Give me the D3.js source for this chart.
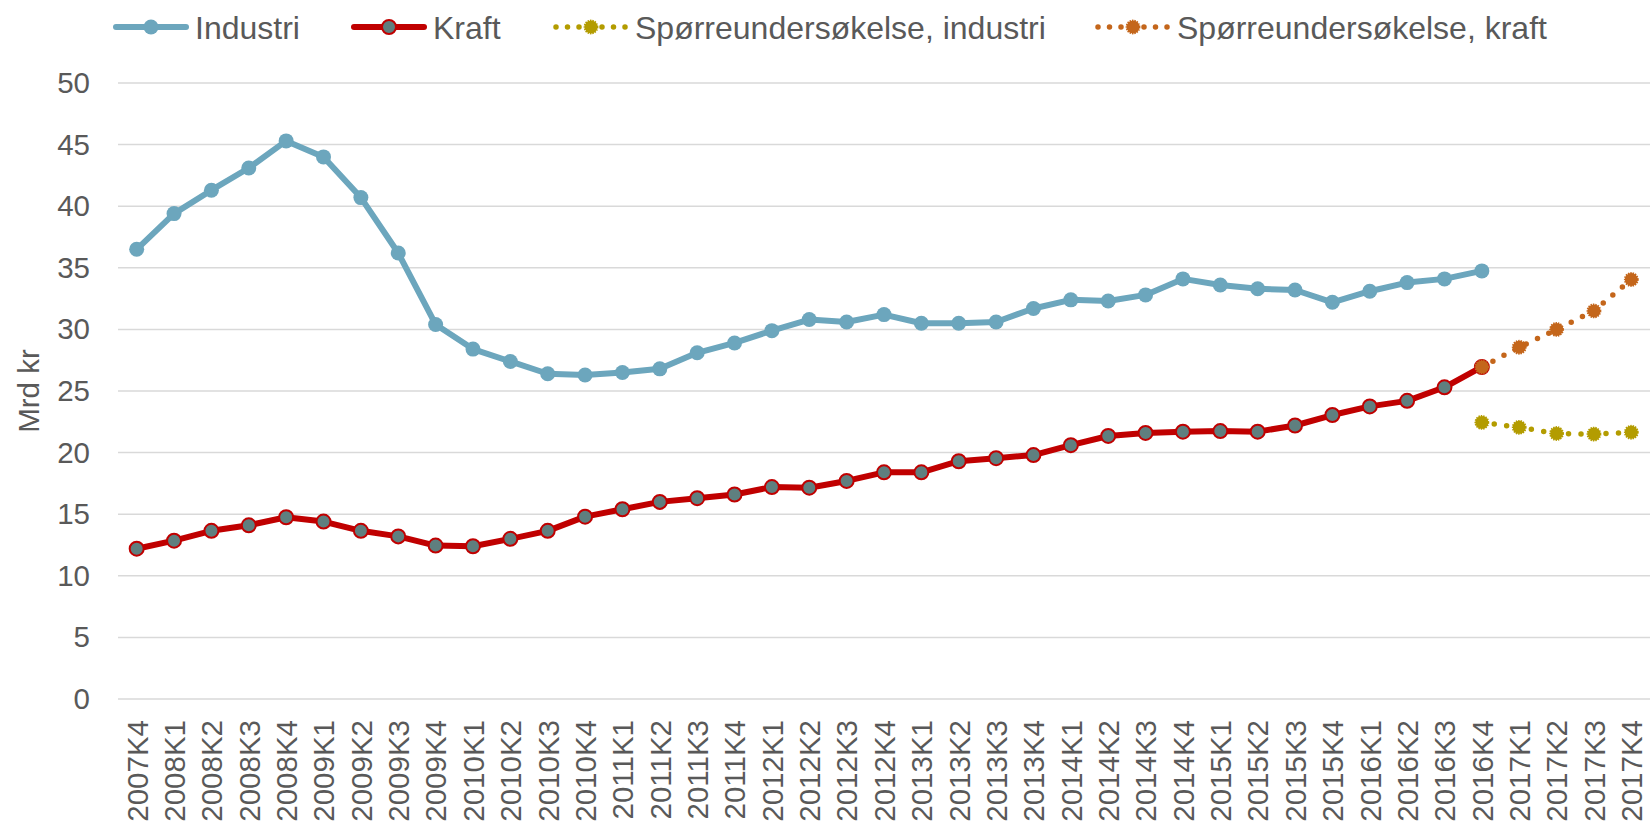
<!DOCTYPE html>
<html>
<head>
<meta charset="utf-8">
<script src="https://cdn.jsdelivr.net/npm/d3@7"></script>
<style>
  body { margin: 0; background: #fff; }
  text { font-family: Arial, "Liberation Sans", sans-serif; fill: #595959; }
</style>
</head>
<body>
<div id="chart"></div>
<script>
//Quarters on the x axis
var quarters = [];
["2007K4"].forEach(function (q) { quarters.push(q); });
[2008, 2009, 2010, 2011, 2012, 2013, 2014, 2015, 2016, 2017].forEach(function (y) {
  [1, 2, 3, 4].forEach(function (k) { quarters.push(y + "K" + k); });
});

//Series values, Mrd kr
var industri = [36.5, 39.4, 41.3, 43.1, 45.3, 44.0, 40.7, 36.2, 30.4, 28.4,
                27.4, 26.4, 26.3, 26.5, 26.8, 28.1, 28.9, 29.9, 30.8, 30.6,
                31.2, 30.5, 30.5, 30.6, 31.7, 32.4, 32.3, 32.8, 34.1, 33.6,
                33.3, 33.2, 32.2, 33.1, 33.8, 34.1, 34.75];
var kraft = [12.2, 12.85, 13.65, 14.1, 14.75, 14.4, 13.65, 13.2, 12.45, 12.4,
             13.0, 13.65, 14.8, 15.4, 16.0, 16.3, 16.6, 17.2, 17.15, 17.7,
             18.4, 18.4, 19.3, 19.55, 19.8, 20.6, 21.35, 21.6, 21.7, 21.75,
             21.7, 22.2, 23.05, 23.75, 24.2, 25.3, 26.95];
var surveyQuarters = ["2016K4", "2017K1", "2017K2", "2017K3", "2017K4"];
var surveyIndustri = [22.45, 22.05, 21.55, 21.5, 21.65];
var surveyKraft = [26.95, 28.55, 30.0, 31.5, 34.05];

var yTicks = [0, 5, 10, 15, 20, 25, 30, 35, 40, 45, 50];

var legendLabels = ["Industri", "Kraft", "Spørreundersøkelse, industri", "Spørreundersøkelse, kraft"];

var width = 1650, height = 831;
var margin = { top: 83, right: 0, bottom: 132, left: 118 };

var svg = d3.select("#chart").append("svg")
  .attr("width", width)
  .attr("height", height);

var x = d3.scalePoint()
  .domain(quarters)
  .range([margin.left, width - margin.right])
  .padding(0.5);

var y = d3.scaleLinear()
  .domain([0, 50])
  .range([height - margin.bottom, margin.top]);

//Gridlines
svg.append("g")
  .selectAll("line")
  .data(yTicks)
  .enter().append("line")
  .attr("x1", margin.left)
  .attr("x2", width - margin.right)
  .attr("y1", function (d) { return y(d); })
  .attr("y2", function (d) { return y(d); })
  .attr("stroke", "#d9d9d9")
  .attr("stroke-width", 1.5);

//Y axis
var yAxis = svg.append("g")
  .attr("transform", "translate(" + margin.left + ",0)")
  .call(d3.axisLeft(y).tickValues(yTicks).tickSize(0).tickPadding(28));
yAxis.select(".domain").remove();
yAxis.selectAll("text")
  .style("font-size", "29.5px")
  .style("fill", "#595959")
  .attr("font-family", null);

//X axis
var xAxis = svg.append("g")
  .attr("transform", "translate(0," + (height - margin.bottom) + ")")
  .call(d3.axisBottom(x).tickSize(0).tickPadding(0));
xAxis.select(".domain").remove();
xAxis.selectAll("text")
  .style("font-size", "29.5px")
  .style("fill", "#595959")
  .attr("font-family", null)
  .attr("text-anchor", "end")
  .attr("transform", "rotate(-90)")
  .attr("x", -21)
  .attr("y", 0)
  .attr("dy", "0.35em");

//Y axis title
svg.append("text")
  .attr("transform", "translate(29," + y(25) + ") rotate(-90)")
  .attr("text-anchor", "middle")
  .attr("dy", "0.35em")
  .style("font-size", "29.5px")
  .text("Mrd kr");

//Line generator
var line = d3.line()
  .x(function (d) { return x(d.q); })
  .y(function (d) { return y(d.v); });

function pairs(qs, vs) {
  return vs.map(function (v, i) { return { q: qs[i], v: v }; });
}

var styles = [
  { color: "#6ca6bd", width: 6, dash: null, r: 7.5, mfill: "#6ca6bd", mstroke: "#6ca6bd", mw: 0, mdash: null },
  { color: "#c00000", width: 6, dash: null, r: 7, mfill: "#5f7f7f", mstroke: "#c00000", mw: 2, mdash: null },
  { color: "#b39c00", width: 5.5, dash: "0,12.5", r: 6.5, mfill: "#b39c00", mstroke: "#b39c00", mw: 1.8, mdash: "1.4,1" },
  { color: "#c4661b", width: 5.5, dash: "0,12.5", r: 6.5, mfill: "#c4661b", mstroke: "#c4661b", mw: 1.8, mdash: "1.4,1" }
];

var series = [
  pairs(quarters, industri),
  pairs(quarters, kraft),
  pairs(surveyQuarters, surveyIndustri),
  pairs(surveyQuarters, surveyKraft)
];

series.forEach(function (data, i) {
  var s = styles[i];
  var g = svg.append("g");
  g.append("path")
    .datum(data)
    .attr("d", line)
    .attr("fill", "none")
    .attr("stroke", s.color)
    .attr("stroke-width", s.width)
    .attr("stroke-linejoin", "round")
    .attr("stroke-linecap", "round")
    .attr("stroke-dasharray", s.dash);
  g.selectAll("circle")
    .data(data)
    .enter().append("circle")
    .attr("cx", function (d) { return x(d.q); })
    .attr("cy", function (d) { return y(d.v); })
    .attr("r", s.r)
    .attr("fill", s.mfill)
    .attr("stroke", s.mw ? s.mstroke : "none")
    .attr("stroke-width", s.mw)
    .attr("stroke-dasharray", s.mdash);
});

//Legend
var legendX = [116, 354, 556, 1098];
var legend = svg.append("g");
legendLabels.forEach(function (label, i) {
  var s = styles[i];
  var lx = legendX[i], ly = 27, len = 70;
  legend.append("line")
    .attr("x1", lx).attr("x2", lx + len)
    .attr("y1", ly).attr("y2", ly)
    .attr("stroke", s.color)
    .attr("stroke-width", s.width)
    .attr("stroke-linecap", "round")
    .attr("stroke-dasharray", s.dash ? "0,11.5" : null);
  legend.append("circle")
    .attr("cx", lx + len / 2).attr("cy", ly)
    .attr("r", s.r)
    .attr("fill", s.mfill)
    .attr("stroke", s.mw ? s.mstroke : "none")
    .attr("stroke-width", s.mw)
    .attr("stroke-dasharray", s.mdash);
  legend.append("text")
    .attr("x", lx + len + 9)
    .attr("y", 38.5)
    .style("font-size", "32px")
    .text(label);
});
</script>
</body>
</html>
